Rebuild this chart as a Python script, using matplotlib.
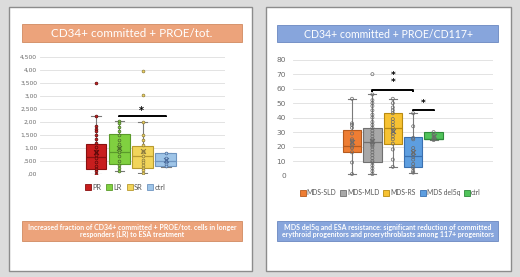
import matplotlib
matplotlib.use("Agg")
import matplotlib.pyplot as plt
from matplotlib.patches import Rectangle
from matplotlib.lines import Line2D

W, H = 520, 277

# ---------------- data ----------------
left_title = "CD34+ committed + PROE/tot."
left_caption = "Increased fraction of CD34+ committed + PROE/tot. cells in longer\nresponders (LR) to ESA treatment"
left_groups = ["PR", "LR", "SR", "ctrl"]
left_q1 = [0.20, 0.40, 0.22, 0.30]
left_med = [0.65, 0.83, 0.69, 0.51]
left_q3 = [1.14, 1.53, 1.09, 0.80]
left_wlo = [0.00, 0.10, 0.05, 0.28]
left_whi = [2.24, 2.05, 2.00, 0.82]
left_mean = [0.85, 1.00, 0.88, 0.55]
left_pts_PR = [3.50, 2.24, 1.85, 1.75, 1.64, 1.50, 1.33, 1.20, 1.05, 0.90, 0.75, 0.60, 0.45, 0.30, 0.20, 0.10, 0.00]
left_pts_LR = [2.05, 1.95, 1.80, 1.65, 1.50, 1.30, 1.15, 1.00, 0.85, 0.70, 0.50, 0.35, 0.25, 0.10]
left_pts_SR = [3.95, 3.05, 2.00, 1.50, 1.30, 1.10, 0.90, 0.85, 0.70, 0.55, 0.45, 0.35, 0.25, 0.15, 0.05]
left_pts_ctrl = [0.80, 0.60, 0.50, 0.40, 0.30]
left_yticks = [0, 0.5, 1.0, 1.5, 2.0, 2.5, 3.0, 3.5, 4.0, 4.5]
left_yticklabels = [",00", ",500", "1,00", "1,500", "2,00", "2,500", "3,00", "3,500", "4,00", "4,500"]
left_sig = (1, 3, 2.24, 2.43, "*")  # from group, to group, bracket y, star y, label

right_title = "CD34+ committed + PROE/CD117+"
right_caption = "MDS del5q and ESA resistance: significant reduction of committed\nerythroid progenitors and proerythroblasts among 117+ progenitors"
right_groups = ["MDS-SLD", "MDS-MLD", "MDS-RS", "MDS del5q", "ctrl"]
right_q1 = [16.5, 9.0, 22.0, 5.6, 25.0]
right_med = [20.4, 23.0, 32.6, 13.5, 25.5]
right_q3 = [31.5, 33.0, 43.0, 26.4, 30.0]
right_wlo = [1.0, 0.8, 6.0, 2.0, 24.5]
right_whi = [53.0, 56.0, 53.0, 43.0, 30.0]
right_mean = [23.0, 24.0, 31.0, 16.0, 27.0]
right_pts_SLD = [53, 36, 35, 33, 29, 25, 24, 22, 20, 19, 16, 9, 1]
right_pts_MLD = [70, 56, 52, 50, 48, 45, 42, 40, 37, 35, 33, 31, 29, 27, 25, 24, 23, 22, 21, 20,
                 18, 16, 14, 12, 10, 9, 7, 5, 3, 1]
right_pts_RS = [53, 50, 47, 45, 43, 39, 37, 35, 33, 31, 29, 27, 25, 22, 18, 11, 6]
right_pts_del5q = [43, 34, 26, 25, 19, 17, 15, 13, 11, 8, 6, 5, 3, 2]
right_pts_ctrl = [30, 28, 26, 25, 24.5]
right_yticks = [0, 10, 20, 30, 40, 50, 60, 70, 80]
right_sig1 = (1, 3, 59.0, 66.5, "*\n*")
right_sig2 = (3, 4, 45.3, 49.5, "*")

# ---------------- styles ----------------
left_fc = ["#c81e1e", "#80d040", "#f2d55a", "#9fc5e8"]
left_ec = ["#8a1010", "#5a9a2a", "#b89a30", "#6f95c0"]
left_ptc = ["#5a0a0a", "#4a6a2a", "#8a7a40", "#4a6a9a"]
right_fc = ["#ee7d33", "#a8a8a8", "#f7c232", "#5d9ee0", "#50c35a"]
right_ec = ["#b55a1e", "#707070", "#b88a10", "#3a70b0", "#2e8a3a"]

bg = "#dcdcdc"
orange_bar = "#eca37b"
blue_bar = "#87a5dc"

fig = plt.figure(figsize=(W / 100, H / 100), dpi=100)
fig.patch.set_facecolor(bg)


def fr(x0, y0, x1, y1):
    return [x0 / W, 1 - y1 / H, (x1 - x0) / W, (y1 - y0) / H]


def add_rect(x0, y0, x1, y1, fc, ec, lw):
    r = fr(x0, y0, x1, y1)
    fig.add_artist(Rectangle((r[0], r[1]), r[2], r[3], transform=fig.transFigure,
                             facecolor=fc, edgecolor=ec, linewidth=lw, zorder=0))


# panels
add_rect(9, 7, 252, 271, "white", "#8c8c8c", 1.0)
add_rect(266, 7, 511, 271, "white", "#8c8c8c", 1.0)

# title / caption bars
add_rect(21.5, 24, 242, 42, orange_bar, "#d08a60", 0.6)
add_rect(21.5, 221, 242, 241, orange_bar, "#d08a60", 0.6)
add_rect(277, 25, 498, 42, blue_bar, "#6a88c0", 0.6)
add_rect(277, 221, 498, 241, blue_bar, "#6a88c0", 0.6)

font_title = ["Lato", "DejaVu Sans"]
fig.text(132 / W, 1 - 33.5 / H, left_title, color="white", fontsize=8.4,
         ha="center", va="center", family=font_title)
fig.text(388 / W, 1 - 34 / H, right_title, color="white", fontsize=7.6,
         ha="center", va="center", family=font_title)
fig.text(132 / W, 1 - 231 / H, left_caption, color="white", fontsize=5.0, fontweight="bold",
         ha="center", va="center", family=font_title, linespacing=1.1)
fig.text(387.5 / W, 1 - 231 / H, right_caption, color="white", fontsize=5.0, fontweight="bold",
         ha="center", va="center", family=font_title, linespacing=1.1)


def draw_boxes(ax, q1, med, q3, wlo, whi, mean, pts_list, fc, ec, ptc, width, pt_style):
    stats = []
    for i in range(len(q1)):
        stats.append(dict(q1=q1[i], med=med[i], q3=q3[i], whislo=wlo[i], whishi=whi[i],
                          mean=mean[i], fliers=[]))
    bp = ax.bxp(stats, positions=list(range(len(q1))), widths=width, patch_artist=True,
                showmeans=False, showfliers=False, manage_ticks=False)
    for i, b in enumerate(bp["boxes"]):
        b.set_facecolor(fc[i])
        b.set_edgecolor(ec[i])
        b.set_linewidth(0.8)
        b.set_zorder(3)
    for i, m in enumerate(bp["medians"]):
        m.set_color(ec[i])
        m.set_linewidth(0.9)
        m.set_zorder(4)
    for w in bp["whiskers"]:
        w.set_color("#7a7a7a")
        w.set_linewidth(0.8)
        w.set_zorder(2)
    for c in bp["caps"]:
        c.set_color("#7a7a7a")
        c.set_linewidth(0.8)
        xd = c.get_xdata()
        mid = (xd[0] + xd[1]) / 2
        c.set_xdata([mid - width * 0.22, mid + width * 0.22])
    for i, pts in enumerate(pts_list):
        ax.scatter([i] * len(pts), pts, s=pt_style[0], facecolor=pt_style[1] or fc[i],
                   edgecolor=ptc[i], linewidth=0.5, zorder=5)
        ax.scatter([i], [mean[i]], marker="x", s=12, color=ptc[i], linewidth=0.8, zorder=6)
    return bp


def bracket(ax, x0, x1, y, tick):
    ax.plot([x0, x0, x1, x1], [y - tick, y, y, y - tick], color="black", lw=1.4, zorder=7,
            solid_capstyle="butt")


# ---------------- left chart ----------------
axL = fig.add_axes(fr(40, 57, 225, 174))
axL.set_facecolor("none")
sp = 23.33
axL.set_xlim((40 - 96) / sp, (225 - 96) / sp)
axL.set_ylim(0, 4.5)
draw_boxes(axL, left_q1, left_med, left_q3, left_wlo, left_whi, left_mean,
           [left_pts_PR, left_pts_LR, left_pts_SR, left_pts_ctrl],
           left_fc, left_ec, left_ptc, 0.9, (4, None))
axL.set_yticks(left_yticks)
axL.set_yticklabels(left_yticklabels)
axL.set_xticks([])
axL.grid(axis="y", color="#dedede", lw=0.6)
axL.set_axisbelow(True)
for s in axL.spines.values():
    s.set_visible(False)
axL.tick_params(axis="y", length=0, labelsize=4.3, labelcolor="#6a6a6a", pad=2)
a, b, yb, ys, lab = left_sig
bracket(axL, a, b, yb, 0.06)
axL.text((a + b) / 2 - 0.05, ys, lab, ha="center", va="center", fontsize=7, fontweight="bold",
         color="black", zorder=8)

hL = [Line2D([], [], marker="s", linestyle="none", markersize=4, markerfacecolor=left_fc[i],
             markeredgecolor=left_ec[i], markeredgewidth=0.6) for i in range(len(left_groups))]
fig.legend(hL, left_groups, loc="center", bbox_to_anchor=(125 / W, 1 - 187 / H), ncol=4,
           frameon=False, handletextpad=0.1, columnspacing=0.5, handlelength=1.0,
           labelcolor="#555555", prop={"family": font_title, "size": 5.4})

# ---------------- right chart ----------------
axR = fig.add_axes(fr(293, 59.7, 493, 175.5))
axR.set_facecolor("none")
sp = 20.4
axR.set_xlim((293 - 352) / sp, (493 - 352) / sp)
axR.set_ylim(0, 80)
draw_boxes(axR, right_q1, right_med, right_q3, right_wlo, right_whi, right_mean,
           [right_pts_SLD, right_pts_MLD, right_pts_RS, right_pts_del5q, right_pts_ctrl],
           right_fc, right_ec, ["#6a6a6a"] * 5, 0.9, (5, "none"))
axR.set_yticks(right_yticks)
axR.set_xticks([])
axR.grid(axis="y", color="#dedede", lw=0.6)
axR.set_axisbelow(True)
for s in axR.spines.values():
    s.set_visible(False)
axR.tick_params(axis="y", length=0, labelsize=5.3, labelcolor="#6a6a6a", pad=5)
for (a, b, yb, ys, lab) in (right_sig1, right_sig2):
    bracket(axR, a, b, yb, 1.0)
    axR.text((a + b) / 2, ys, lab, ha="center", va="center", fontsize=6.5, fontweight="bold",
             color="black", zorder=8, linespacing=0.75)

hR = [Line2D([], [], marker="s", linestyle="none", markersize=4, markerfacecolor=right_fc[i],
             markeredgecolor=right_ec[i], markeredgewidth=0.6) for i in range(len(right_groups))]
fig.legend(hR, right_groups, loc="center", bbox_to_anchor=(390 / W, 1 - 192.5 / H), ncol=5,
           frameon=False, handletextpad=0.1, columnspacing=0.5, handlelength=1.0,
           labelcolor="#555555", prop={"family": font_title, "size": 4.9})

fig.savefig("out.png", dpi=100, facecolor=bg)
